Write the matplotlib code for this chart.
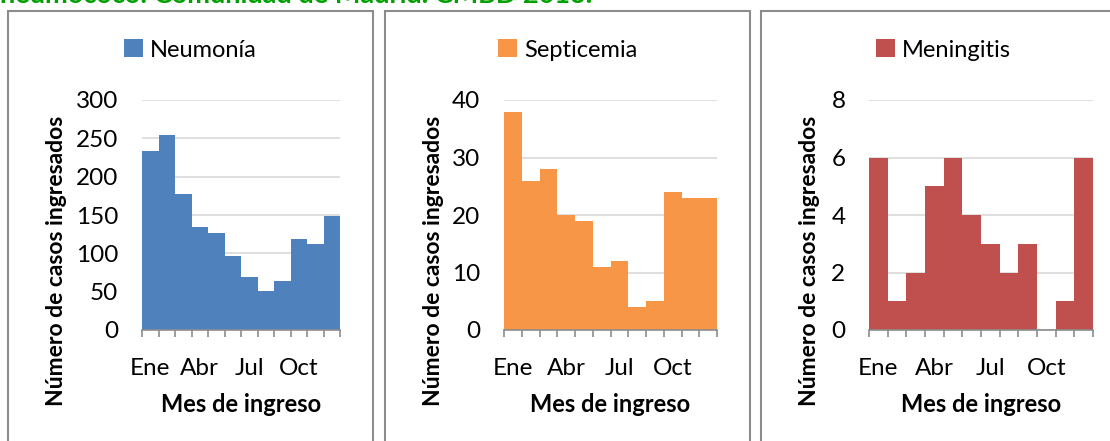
import matplotlib.pyplot as plt
from matplotlib.patches import Rectangle
import numpy as np

plt.rcParams['font.family'] = ['Lato', 'DejaVu Sans']

meses = ["Ene", "Feb", "Mar", "Abr", "May", "Jun", "Jul", "Ago", "Sep", "Oct", "Nov", "Dic"]
neumonia = [233, 255, 177, 134, 127, 96, 69, 51, 64, 119, 112, 149]
septicemia = [38, 26, 28, 20, 19, 11, 12, 4, 5, 24, 23, 23]
meningitis = [6, 1, 2, 5, 6, 4, 3, 2, 3, 0, 1, 6]

series = [
    ("Neumonía", neumonia, "#4F81BD", 300, 50),
    ("Septicemia", septicemia, "#F79646", 40, 10),
    ("Meningitis", meningitis, "#C0504D", 8, 2),
]

W, H = 1110, 441
fig = plt.figure(figsize=(W / 100, H / 100), dpi=100)

# pixel boxes: (axes left, axes right, panel left, panel right)
boxes = [(142, 340, 8, 373), (504, 717, 385, 750), (869, 1093, 761, 1140)]
top, bottom = 100, 330

fig.text(0.0, 1 - 3 / H, "neumococo: Comunidad de Madrid. CMBD 2013.",
         color="#00A000", fontsize=19.5, fontweight="bold", va="baseline", ha="left")

for (name, vals, col, ymax, step), (l, r, pl, pr) in zip(series, boxes):
    # panel frame
    fig.patches.append(Rectangle((pl / W, -0.1), (pr - pl) / W, (H - 11) / H + 0.1,
                                 transform=fig.transFigure, fill=False,
                                 edgecolor="#8c8c8c", linewidth=1.5))
    ax = fig.add_axes([l / W, (H - bottom) / H, (r - l) / W, (bottom - top) / H])
    x = np.arange(len(vals))
    ax.bar(x, vals, width=1.0, color=col, label=name, zorder=2)
    ax.set_xlim(-0.5, len(vals) - 0.5)
    ax.set_ylim(0, ymax)
    ax.set_yticks(np.arange(0, ymax + step / 2, step))
    ax.yaxis.grid(True, color="#d9d9d9", linewidth=1.2, zorder=0)
    ax.set_axisbelow(True)
    for s in ["left", "right", "top"]:
        ax.spines[s].set_visible(False)
    ax.spines["bottom"].set_color("#8c8c8c")
    ax.spines["bottom"].set_linewidth(1.2)
    ax.tick_params(axis="y", length=0, pad=17, labelsize=17.5, labelcolor="#000000")
    # category boundary ticks
    ax.set_xticks(np.arange(-0.5, len(vals), 1.0))
    ax.set_xticklabels([])
    ax.tick_params(axis="x", which="major", length=5, width=1.2, color="#8c8c8c", direction="out")
    ax.set_xticks(x[::3], minor=True)
    ax.set_xticklabels([meses[i] for i in x[::3]], minor=True)
    ax.tick_params(axis="x", which="minor", length=0, pad=20, labelsize=17.5)
    ax.set_ylabel("Número de casos ingresados", fontsize=16.5, fontweight="bold")
    ax.set_xlabel("Mes de ingreso", fontsize=17, fontweight="bold")
    ax.yaxis.set_label_coords(-(l - (pl + 59)) / (r - l), 0.30)
    ax.xaxis.set_label_coords(0.5, -(404 - bottom) / (bottom - top))
    ax.xaxis.label.set_va("center")
    ax.legend(loc="center", bbox_to_anchor=((pl + min(pr, pl + 365)) / 2 / W, 1 - 50 / H),
              bbox_transform=fig.transFigure, frameon=False, fontsize=17,
              handlelength=0.8, handleheight=0.8, handletextpad=0.3)

fig.savefig("out.png", dpi=100)
